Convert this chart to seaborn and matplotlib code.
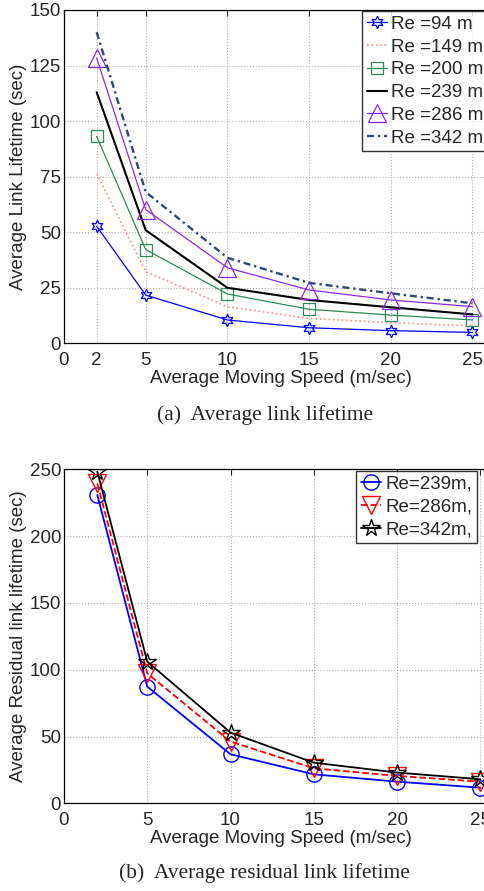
import numpy as np
import pandas as pd
import seaborn as sns
import matplotlib.pyplot as plt

# --- Data ---
speed = [2, 5, 10, 15, 20, 25]

# (a) average link lifetime (sec)
life_94 = [52.7, 21.7, 10.5, 7.0, 5.7, 4.9]
life_149 = [76.3, 32.2, 16.5, 11.2, 9.3, 7.8]
life_200 = [93.1, 42.2, 22.2, 15.3, 12.7, 10.5]
life_239 = [113.0, 50.9, 25.0, 19.5, 16.2, 13.0]
life_286 = [128.4, 60.2, 34.0, 24.0, 19.5, 16.5]
life_342 = [140.0, 68.1, 38.5, 27.2, 22.5, 18.0]

# (b) average residual link lifetime (sec)
resid_239 = [230.8, 87.3, 36.7, 21.7, 16.2, 11.7]
resid_286 = [239.5, 97.3, 46.2, 26.2, 20.5, 16.2]
resid_342 = [248.3, 106.0, 52.9, 30.4, 23.0, 18.0]

top_labels = ['Re =94 m', 'Re =149 m', 'Re =200 m', 'Re =239 m', 'Re =286 m', 'Re =342 m']
bot_labels = ['Re=239m,', 'Re=286m,', 'Re=342m,']

sns.set_style('white')
plt.rcParams['font.family'] = ['Liberation Sans', 'DejaVu Sans']
plt.rcParams['font.size'] = 13.5

fig = plt.figure(figsize=(4.85, 8.91), dpi=100)
W, H = 485, 891

# axes run past the right edge, like the cropped original
ax1 = fig.add_axes([64 / W, 1 - 343.3 / H, (497 - 64) / W, 333.3 / H])
ax2 = fig.add_axes([64 / W, 1 - 803.3 / H, (497 - 64) / W, 334 / H])

# -- top panel --
top_styles = [
    dict(color='#0000ff', marker=(6, 1, 0), linestyle='-', lw=0.9, ms=9),
    dict(color='#ff8c8c', marker=None, linestyle=':', lw=1.2, ms=0),
    dict(color='#2e8b57', marker='s', linestyle='-', lw=0.9, ms=8.8),
    dict(color='#000000', marker=None, linestyle='-', lw=1.5, ms=0),
    dict(color='#8a2be2', marker='^', linestyle='-', lw=0.9, ms=12.5),
    dict(color='#2f4a78', marker=None, linestyle=(0, (3, 1.6, 1, 1.6)), lw=1.7, ms=0),
]
for vals, lab, st in zip([life_94, life_149, life_200, life_239, life_286, life_342],
                         top_labels, top_styles):
    kw = dict(x=speed, y=vals, ax=ax1, color=st['color'], linestyle=st['linestyle'],
              linewidth=st['lw'], label=lab)
    if st['marker'] is not None:
        kw.update(marker=st['marker'], markersize=st['ms'], markerfacecolor='none',
                  markeredgecolor=st['color'], markeredgewidth=0.9)
    sns.lineplot(**kw)

ax1.set_xlim(0, 26.5)
ax1.set_ylim(0, 150)
ax1.set_xticks([0, 2, 5, 10, 15, 20, 25])
ax1.set_yticks([0, 25, 50, 75, 100, 125, 150])
ax1.set_xlabel('Average Moving Speed (m/sec)', labelpad=1)
ax1.set_ylabel('Average Link Lifetime (sec)', labelpad=2)

# -- bottom panel --
bot_styles = [
    dict(color='#0000ff', marker='o', linestyle='-', ms=11),
    dict(color='#ff0000', marker='v', linestyle='--', ms=12.5),
    dict(color='#000000', marker='*', linestyle='-', ms=13),
]
for vals, lab, st in zip([resid_239, resid_286, resid_342], bot_labels, bot_styles):
    sns.lineplot(x=speed, y=vals, ax=ax2, color=st['color'], linestyle=st['linestyle'],
                 linewidth=1.3, label=lab, marker=st['marker'], markersize=st['ms'],
                 markerfacecolor='none', markeredgecolor=st['color'], markeredgewidth=1.0)

ax2.set_xlim(0, 26)
ax2.set_ylim(0, 250)
ax2.set_xticks([0, 5, 10, 15, 20, 25])
ax2.set_yticks([0, 50, 100, 150, 200, 250])
ax2.set_xlabel('Average Moving Speed (m/sec)', labelpad=1)
ax2.set_ylabel('Average Residual link lifetime (sec)', labelpad=2)

for ax in (ax1, ax2):
    ax.grid(True, linestyle=':', color='#b0b0b0', linewidth=0.8)
    ax.tick_params(direction='in', top=True, right=True, length=4, width=0.8,
                   labelsize=13.5)
    ax.tick_params(axis='x', pad=6)
    ax.tick_params(axis='y', pad=2)
    for sp in ax.spines.values():
        sp.set_visible(True)
        sp.set_color('black')
        sp.set_linewidth(0.9)

leg1 = ax1.legend(loc='upper left', bbox_to_anchor=(362 / W, 1 - 11 / H),
                  bbox_transform=fig.transFigure, frameon=True, fancybox=False,
                  handlelength=1.1, handletextpad=0.2, borderpad=0.25,
                  labelspacing=0.3, borderaxespad=0, fontsize=13.5)
leg1.get_frame().set_edgecolor('black')
leg1.get_frame().set_linewidth(1.0)

leg2 = ax2.legend(loc='upper left', bbox_to_anchor=(356 / W, 1 - 471 / H),
                  bbox_transform=fig.transFigure, frameon=True, fancybox=False,
                  handlelength=1.1, handletextpad=0.2, borderpad=0.25,
                  labelspacing=0.3, borderaxespad=0, fontsize=13.5)
leg2.get_frame().set_edgecolor('black')
leg2.get_frame().set_linewidth(1.0)

# captions
fig.text(265 / W, 1 - 415 / H, '(a)  Average link lifetime', ha='center', va='center',
         family=['Liberation Serif', 'DejaVu Serif'], fontsize=15.5)
fig.text(264 / W, 1 - 873 / H, '(b)  Average residual link lifetime', ha='center', va='center',
         family=['Liberation Serif', 'DejaVu Serif'], fontsize=15.5)

fig.savefig('out.png', dpi=100)
